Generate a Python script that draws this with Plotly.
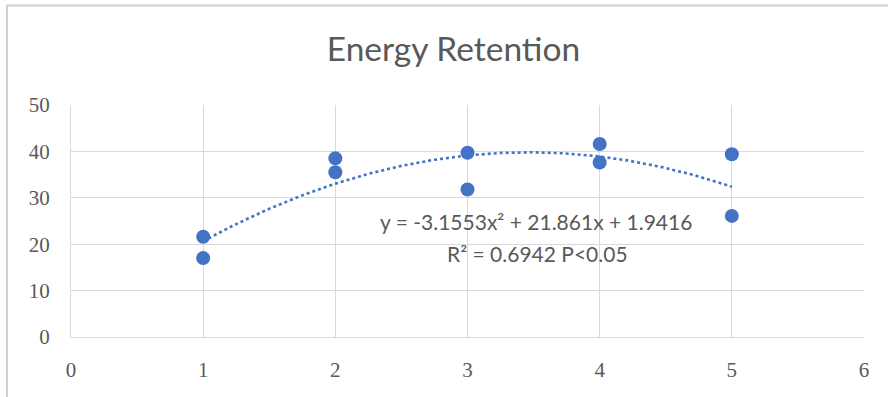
import numpy as np
import plotly.graph_objects as go

# Measured energy retention per level (two replicates each)
x_vals = [1, 1, 2, 2, 3, 3, 4, 4, 5, 5]
y_vals = [21.6, 17.0, 38.5, 35.5, 39.7, 31.8, 41.6, 37.6, 39.4, 26.1]

# Quadratic trendline coefficients (y = a x^2 + b x + c)
coef_a, coef_b, coef_c = -3.1553, 21.861, 1.9416
eq_text = "y = -3.1553x² + 21.861x + 1.9416"
r2_text = "R² = 0.6942 P<0.05"

x_ticks = [0, 1, 2, 3, 4, 5, 6]
y_ticks = [0, 10, 20, 30, 40, 50]

W, H = 888, 397
L, R, T, B = 71, 24, 105, 60
pw, ph = W - L - R, H - T - B

def px_x(p):
    return (p - L) / pw

def px_y(p):
    return (H - B - p) / ph

BLUE = "#4472C4"
TXT = "#595959"
GRID = "#d9d9d9"

xt = np.linspace(1, 5, 200)
yt = coef_a * xt**2 + coef_b * xt + coef_c

fig = go.Figure()
fig.add_trace(go.Scatter(
    x=xt, y=yt, mode="lines",
    line=dict(color=BLUE, width=2.6, dash="dot"),
    hoverinfo="skip", showlegend=False,
))
fig.add_trace(go.Scatter(
    x=x_vals, y=y_vals, mode="markers",
    marker=dict(color=BLUE, size=14),
    showlegend=False,
))

fig.update_layout(
    width=W, height=H,
    margin=dict(l=L, r=R, t=T, b=B),
    paper_bgcolor="white", plot_bgcolor="white",
    title=dict(
        text="Energy Retention",
        font=dict(family="Lato", size=33.5, color=TXT),
        x=453.5 / W, xanchor="center",
        y=1 - 49.5 / H, yanchor="middle",
    ),
    xaxis=dict(
        range=[0, 6], tickvals=x_ticks, ticktext=[str(v) for v in x_ticks],
        showgrid=True, gridcolor=GRID, gridwidth=1,
        zeroline=False, showline=True, linecolor=GRID, mirror=False,
        tickfont=dict(family="Liberation Serif", size=21, color=TXT),
        ticks="", ticklabelstandoff=14,
    ),
    yaxis=dict(
        range=[0, 50], tickvals=y_ticks, ticktext=[str(v) for v in y_ticks],
        showgrid=True, gridcolor=GRID, gridwidth=1,
        zeroline=False, showline=True, linecolor=GRID,
        tickfont=dict(family="Liberation Serif", size=21, color=TXT),
        ticks="", ticklabelstandoff=16,
    ),
    annotations=[
        dict(text=eq_text, xref="paper", yref="paper",
             x=px_x(535.5), y=px_y(221.5), xanchor="center", yanchor="middle",
             showarrow=False, font=dict(family="Lato", size=21, color=TXT)),
        dict(text=r2_text, xref="paper", yref="paper",
             x=px_x(537), y=px_y(253.5), xanchor="center", yanchor="middle",
             showarrow=False, font=dict(family="Lato", size=21, color=TXT)),
    ],
    shapes=[
        dict(type="line", xref="paper", yref="paper",
             x0=px_x(6), x1=px_x(W + 5), y0=px_y(5.5), y1=px_y(5.5),
             line=dict(color="#d0d0d0", width=2)),
        dict(type="line", xref="paper", yref="paper",
             x0=px_x(7), x1=px_x(7), y0=px_y(5.5), y1=px_y(H + 5),
             line=dict(color="#d0d0d0", width=2)),
    ],
)

fig.write_html("out.html")
